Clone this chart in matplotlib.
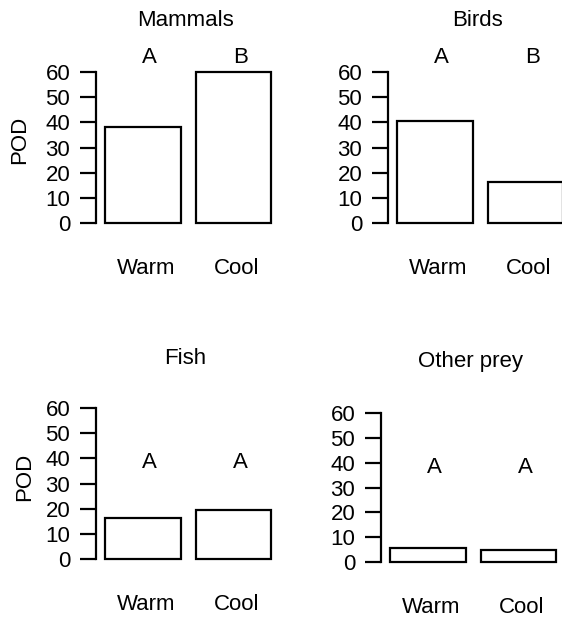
import matplotlib.pyplot as plt

plt.rcParams['font.family'] = ['Liberation Sans', 'DejaVu Sans']

panels = ["Mammals", "Birds", "Fish", "Other prey"]
groups = ["Warm", "Cool"]
mammals = [38, 60]
birds = [40.6, 16.2]
fish = [16.2, 19.5]
other = [5.6, 4.9]
letters = [["A", "B"], ["A", "B"], ["A", "A"], ["A", "A"]]
yticks = [0, 10, 20, 30, 40, 50, 60]

W, H = 562, 619
# pixel boxes: (axis x, y of 60, y of 0)
boxes = [(96, 72, 223), (388, 72, 223), (96, 408, 559), (381, 413, 562)]
letter_y = [65.6, 65.6, 38.2, 38.2]
title_off = [52, 52, 50, 51]
pod_xy = [(20, 140), (25, 477)]
scale = 75.5  # pixels per bar unit
fs = 16

centers = [0.7, 1.9]
xlim = (0.08, 2.49)

fig = plt.figure(figsize=(W / 100, H / 100), dpi=100)

for i, vals in enumerate([mammals, birds, fish, other]):
    x0, ytop, ybot = boxes[i]
    wpx = (xlim[1] - xlim[0]) * scale
    ax = fig.add_axes([x0 / W, 1 - ybot / H, wpx / W, (ybot - ytop) / H])
    ax.bar(centers, vals, width=1.0, color='white', edgecolor='black',
           linewidth=1.6, clip_on=False)
    ax.set_xlim(*xlim)
    ax.set_ylim(0, 60)
    for s in ['top', 'right', 'bottom']:
        ax.spines[s].set_visible(False)
    ax.spines['left'].set_linewidth(1.6)
    ax.spines['left'].set_bounds(0, 60)
    ax.set_yticks(yticks)
    ax.set_yticklabels([str(t) for t in yticks])
    ax.tick_params(axis='y', length=11.5, width=1.6, pad=7, labelsize=fs)
    ax.set_xticks([])

    for c, g in zip(centers, groups):
        ax.annotate(g, xy=(c + 0.04, 0), xycoords=('data', 'axes fraction'),
                    xytext=(0, -32.5), textcoords='offset points',
                    ha='center', va='center', fontsize=fs)
    for c, l in zip(centers, letters[i]):
        ax.text(c + 0.09, letter_y[i], l, ha='center', va='center',
                fontsize=fs, clip_on=False)
    ax.annotate(panels[i], xy=(1.26, 1), xycoords=('data', 'axes fraction'),
                xytext=(0, title_off[i] * 0.72), textcoords='offset points',
                ha='center', va='center', fontsize=fs)

for px, py in pod_xy:
    fig.text(px / W, 1 - py / H, "POD", rotation=90, ha='center',
             va='center', fontsize=fs)

plt.savefig("out.png", dpi=100)
